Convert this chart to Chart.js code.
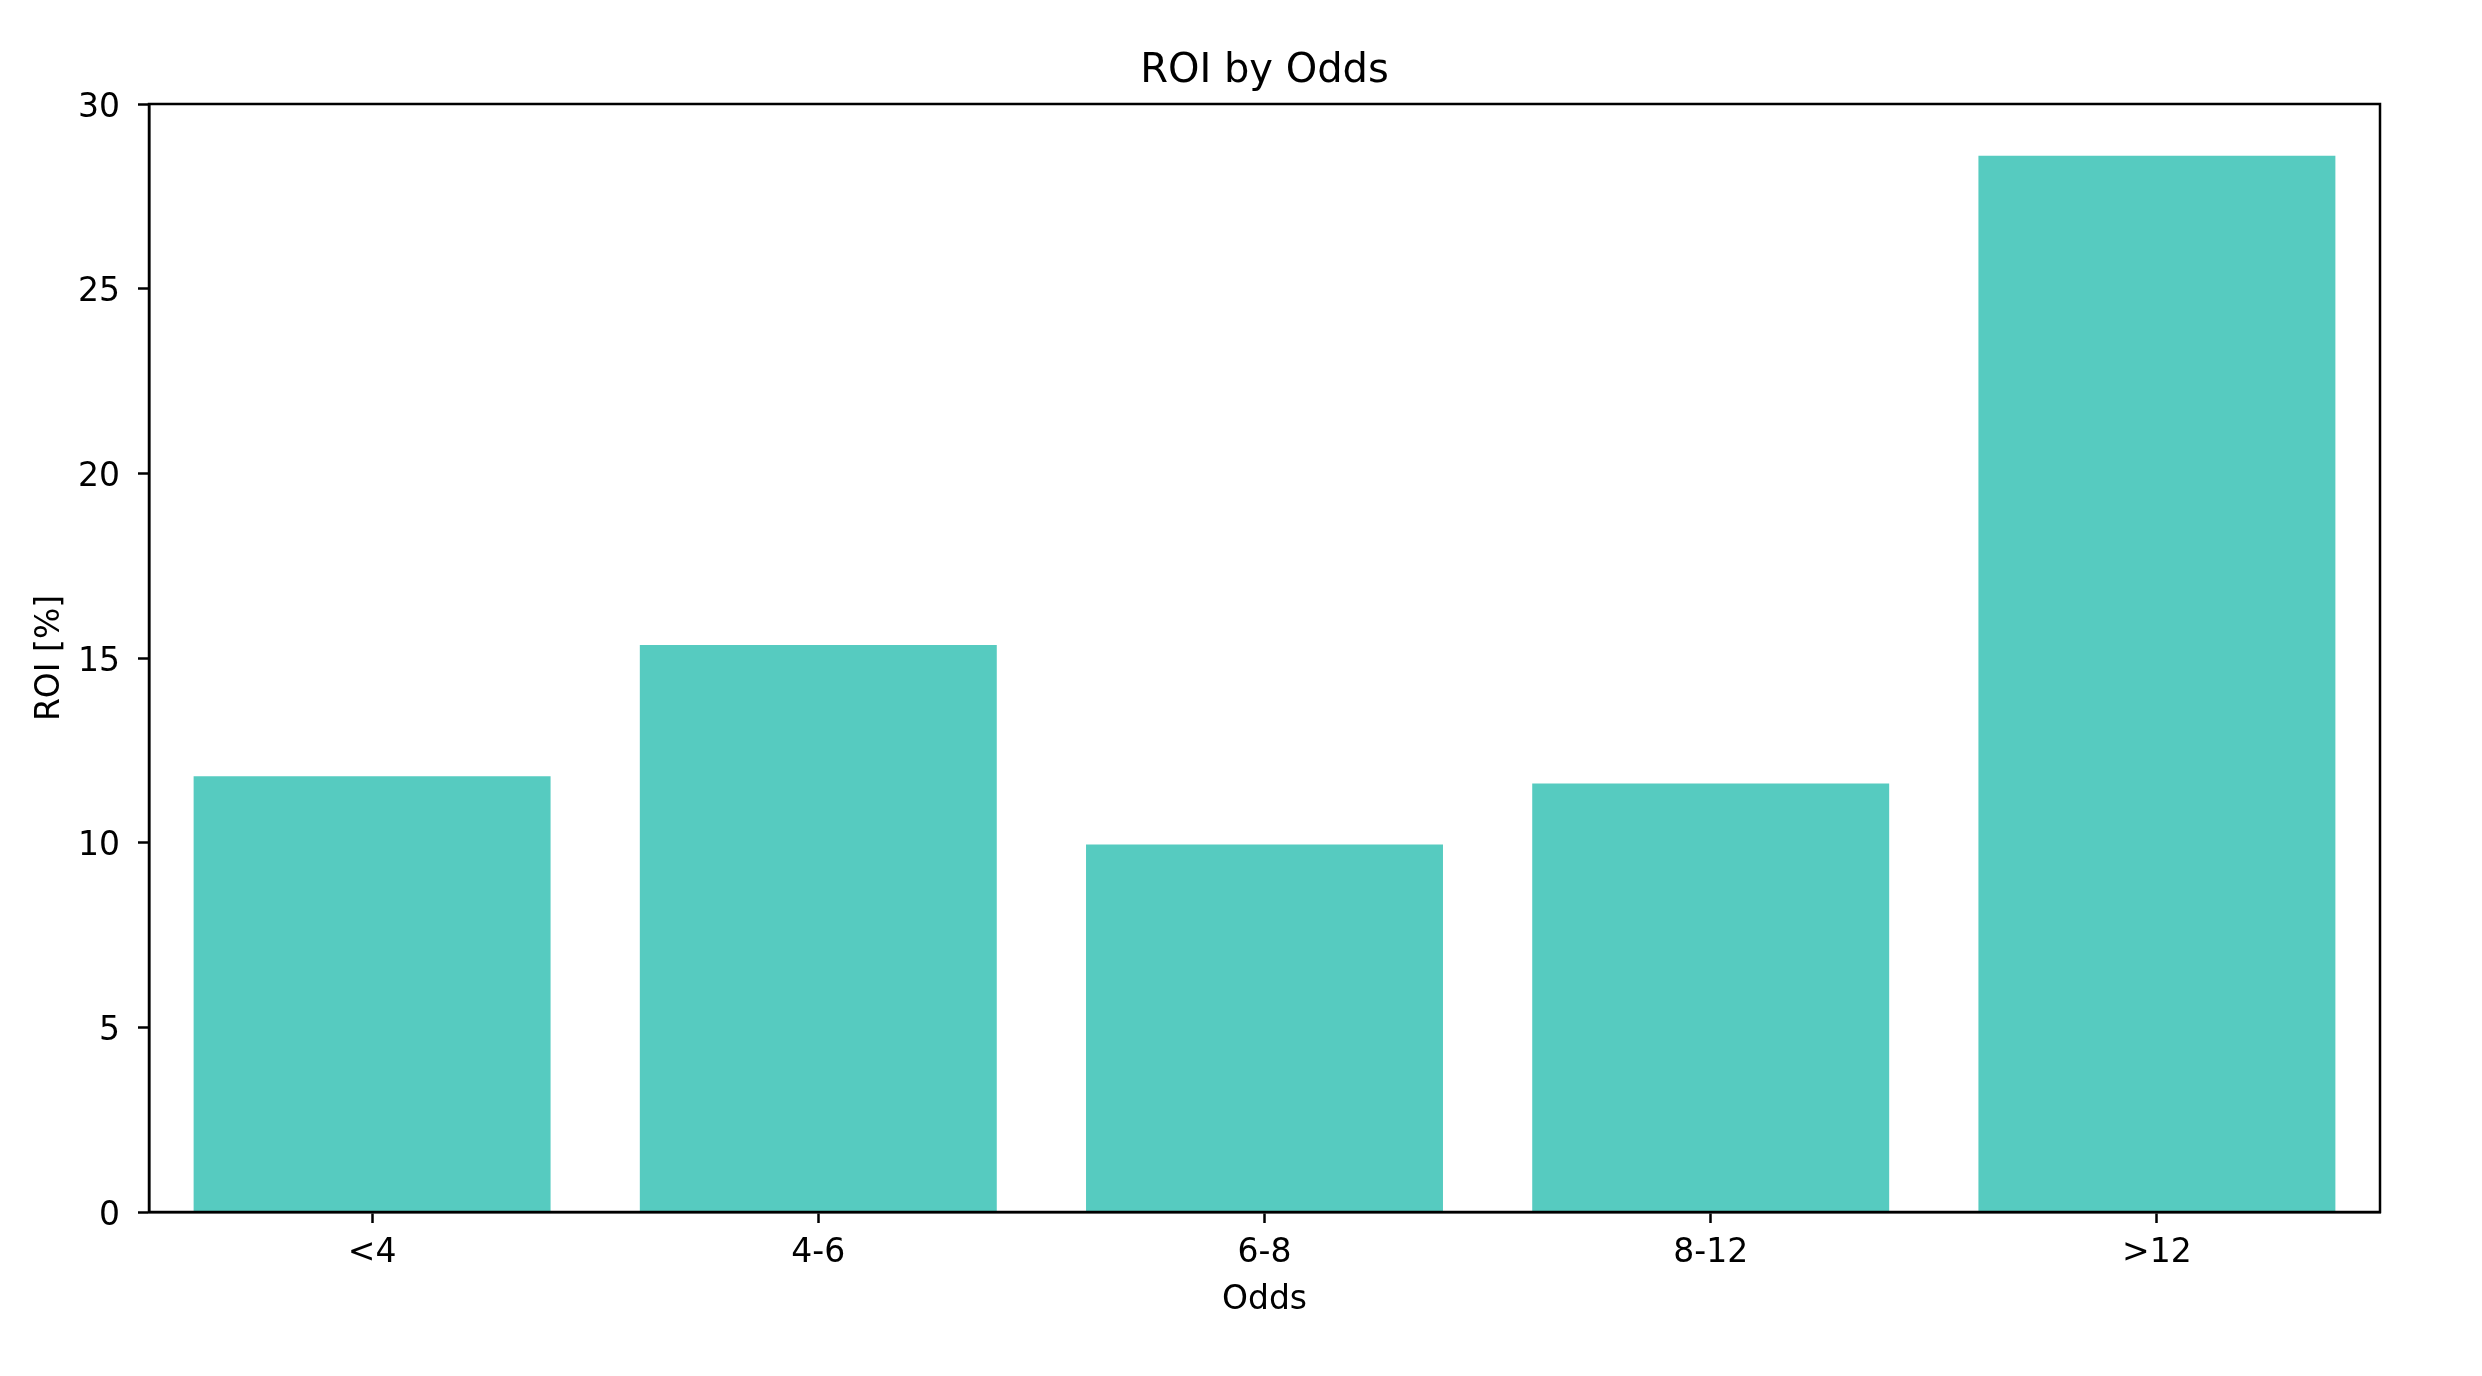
<!DOCTYPE html>
<html>
<head>
<meta charset="utf-8">
<script src="https://cdn.jsdelivr.net/npm/chart.js@4/dist/chart.umd.min.js"></script>
<style>
  html, body { margin: 0; padding: 0; background: #ffffff; }
  #wrap { width: 2482px; height: 1376px; }
</style>
</head>
<body>
<div id="wrap"><canvas id="c" width="2482" height="1376"></canvas></div>
<script>
const categories = ['<4', '4-6', '6-8', '8-12', '>12'];
const roiValues = [11.8, 15.35, 9.95, 11.6, 28.6];
const yTicks = [0, 5, 10, 15, 20, 25, 30];

const FONT = "'DejaVu Sans', sans-serif";

const framePlugin = {
  id: 'frame',
  afterLayout(chart) {
    // center the title over the plotting area, like matplotlib does
    const tb = chart.titleBlock;
    if (tb) {
      tb.left = chart.chartArea.left;
      tb.right = chart.chartArea.right;
    }
  },
  afterDatasetsDraw(chart) {
    const {ctx, chartArea: a} = chart;
    ctx.save();
    ctx.strokeStyle = '#000000';
    ctx.lineWidth = 2.5;
    ctx.strokeRect(a.left, a.top, a.right - a.left, a.bottom - a.top);
    ctx.restore();
  }
};

new Chart(document.getElementById('c'), {
  type: 'bar',
  data: {
    labels: categories,
    datasets: [{
      data: roiValues,
      backgroundColor: 'rgb(86,203,192)',
      borderWidth: 0,
      categoryPercentage: 0.8,
      barPercentage: 1.0
    }]
  },
  options: {
    responsive: false,
    devicePixelRatio: 1,
    animation: false,
    layout: { padding: { left: 0, right: 102, top: 0, bottom: 0 } },
    plugins: {
      legend: { display: false },
      tooltip: { enabled: false },
      title: {
        display: true,
        text: 'ROI by Odds',
        color: '#000000',
        font: { family: FONT, size: 40, weight: 'normal', lineHeight: 1.2 },
        padding: { top: 48, bottom: 8 }
      }
    },
    scales: {
      x: {
        offset: true,
        grid: { display: true, offset: false, drawOnChartArea: false, drawTicks: true, tickLength: 11, tickColor: '#000000', tickWidth: 2.5 },
        border: { display: true, color: '#000000', width: 2.5 },
        ticks: { color: '#000000', font: { family: FONT, size: 33 }, padding: 11, maxRotation: 0 },
        title: { display: true, text: 'Odds', color: '#000000', font: { family: FONT, size: 33 }, padding: { top: 4, bottom: 56 } },
        afterFit(s) { s.height = 164; }
      },
      y: {
        min: 0,
        max: 30,
        afterBuildTicks(s) { s.ticks = yTicks.map(v => ({ value: v })); },
        grid: { display: true, drawOnChartArea: false, drawTicks: true, tickLength: 11, tickColor: '#000000', tickWidth: 2.5 },
        border: { display: true, color: '#000000', width: 2.5 },
        ticks: { color: '#000000', font: { family: FONT, size: 33 }, padding: 18, labelOffset: 4 },
        title: { display: true, text: 'ROI [%]', color: '#000000', font: { family: FONT, size: 33 }, padding: { top: 31, bottom: 4 } },
        afterFit(s) { s.width = 149; }
      }
    }
  },
  plugins: [framePlugin]
});
</script>
</body>
</html>
